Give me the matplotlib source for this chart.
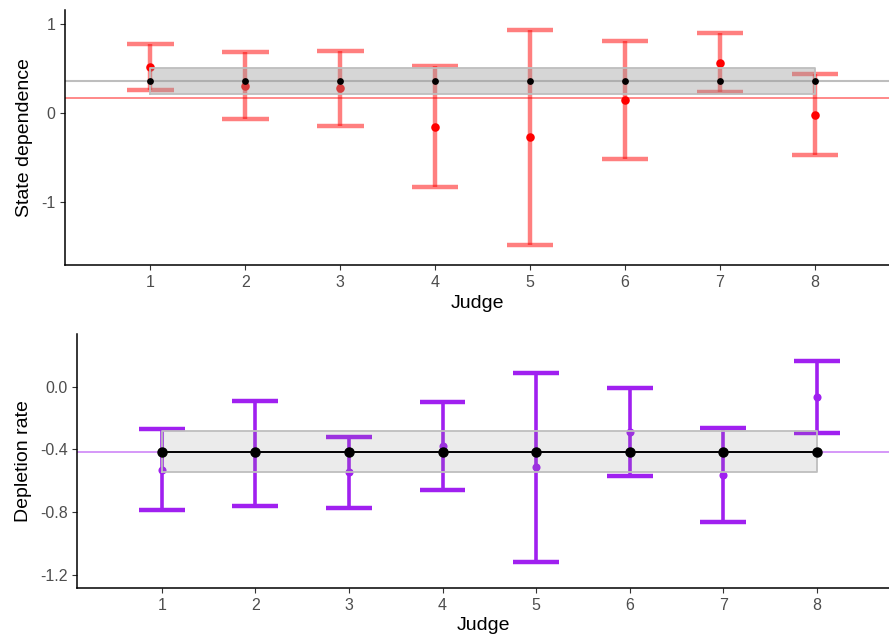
import matplotlib

matplotlib.use("Agg")
import matplotlib.pyplot as plt
import numpy as np

plt.rcParams["font.family"] = ["Liberation Sans", "DejaVu Sans"]

judges = [1, 2, 3, 4, 5, 6, 7, 8]

# state dependence per judge (point, lower, upper)
sd_est = [0.52, 0.31, 0.28, -0.157, -0.27, 0.146, 0.567, -0.017]
sd_lo = [0.26, -0.07, -0.14, -0.826, -1.48, -0.52, 0.24, -0.466]
sd_hi = [0.775, 0.69, 0.70, 0.53, 0.93, 0.815, 0.905, 0.444]
sd_group = 0.36
sd_group_lo = 0.21
sd_group_hi = 0.505
sd_ref = 0.17

# depletion rate per judge
dr_est = [-0.531, -0.425, -0.546, -0.376, -0.514, -0.289, -0.561, -0.064]
dr_lo = [-0.788, -0.758, -0.773, -0.656, -1.115, -0.567, -0.86, -0.293]
dr_hi = [-0.27, -0.093, -0.323, -0.098, 0.085, -0.008, -0.261, 0.166]
dr_group = -0.414
dr_group_lo = -0.546
dr_group_hi = -0.282
dr_ref = -0.414

TICK_GREY = "#4D4D4D"
PURPLE = "#A020F0"
CAP = 0.245


def style_axes(ax, pad):
    for side in ("top", "right"):
        ax.spines[side].set_visible(False)
    for side in ("left", "bottom"):
        ax.spines[side].set_linewidth(1.1)
    ax.tick_params(colors="#333333", labelcolor=TICK_GREY, labelsize=11.5,
                   length=3.5, width=0.8)
    ax.set_xticks(judges)
    ax.set_xlabel("Judge", fontsize=14, labelpad=pad)


def band(ax, lo, hi, face, alpha):
    xs = [judges[0], judges[-1]]
    ax.fill_between(xs, lo, hi, facecolor=face, alpha=alpha, lw=0, zorder=4)
    ax.plot([xs[0], xs[1], xs[1], xs[0], xs[0]], [lo, lo, hi, hi, lo],
            color="#BEBEBE", lw=1.3, zorder=4)


fig = plt.figure(figsize=(8.89, 6.36), dpi=100)

# --- top panel ---
ax1 = fig.add_axes([0.0731, 0.5833, 0.9269, 0.401])
x = np.array(judges)
ax1.axhline(sd_group, color="#BEBEBE", lw=1.5, zorder=1)
ax1.axhline(sd_ref, color="#FF8080", lw=1.3, zorder=1)
ax1.vlines(x, sd_lo, sd_hi, color="red", alpha=0.5, lw=3.2, zorder=2)
ax1.hlines(sd_lo, x - CAP, x + CAP, color="red", alpha=0.5, lw=3.2, zorder=2)
ax1.hlines(sd_hi, x - CAP, x + CAP, color="red", alpha=0.5, lw=3.2, zorder=2)
ax1.scatter(x, sd_est, s=38, color="red", zorder=3, linewidths=0)
band(ax1, sd_group_lo, sd_group_hi, "#9A9A9A", 0.4)
ax1.scatter(x, [sd_group] * len(judges), s=24, color="black", zorder=5,
            linewidths=0)
ax1.set_xlim(0.1, 8.78)
ax1.set_ylim(-1.708, 1.16)
ax1.set_yticks([-1, 0, 1])
ax1.set_yticklabels(["-1", "0", "1"])
ax1.set_ylabel("State dependence", fontsize=14, labelpad=6)
style_axes(ax1, 4)

# --- bottom panel ---
ax2 = fig.add_axes([0.087, 0.075, 0.913, 0.3998])
ax2.axhline(dr_ref, color="#D290F8", lw=1.3, zorder=1)
ax2.vlines(x, dr_lo, dr_hi, color=PURPLE, lw=2.6, zorder=2)
ax2.hlines(dr_lo, x - CAP, x + CAP, color=PURPLE, lw=3.2, zorder=2)
ax2.hlines(dr_hi, x - CAP, x + CAP, color=PURPLE, lw=3.2, zorder=2)
ax2.scatter(x, dr_est, s=34, color=PURPLE, zorder=3, linewidths=0)
band(ax2, dr_group_lo, dr_group_hi, "#8C8C8C", 0.17)
ax2.plot(x, [dr_group] * len(judges), color="black", lw=1.4, marker="o",
         ms=6.5, zorder=5)
ax2.set_xlim(0.098, 8.77)
ax2.set_ylim(-1.285, 0.336)
ax2.set_yticks([-1.2, -0.8, -0.4, 0.0])
ax2.set_yticklabels(["-1.2", "-0.8", "-0.4", "0.0"])
ax2.set_ylabel("Depletion rate", fontsize=14, labelpad=6)
style_axes(ax2, 3)

fig.savefig("out.png", dpi=100)
